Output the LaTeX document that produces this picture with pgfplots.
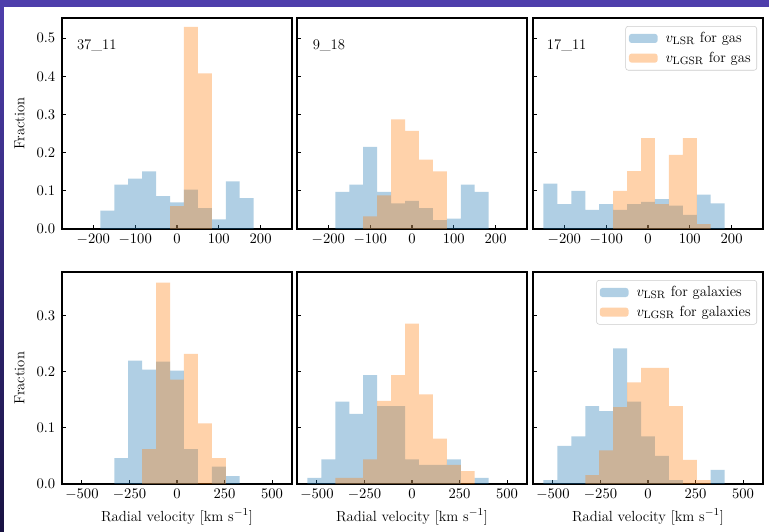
\documentclass[border=0pt]{standalone}
\usepackage{pgfplots}
\pgfplotsset{compat=1.18}
\definecolor{cblue}{HTML}{1F77B4}
\definecolor{corange}{HTML}{FF7F0E}
\definecolor{bgtop}{RGB}{78,62,172}
\definecolor{bgbot}{RGB}{24,18,66}
\definecolor{legframe}{RGB}{204,204,204}
\pgfplotsset{
  histo/.style={ybar, bar shift=0pt, draw=none, fill opacity=0.35,
    legend image code/.code={\fill[##1] (0pt,-3.4pt) rectangle (21.5pt,3.4pt); \path (25.5pt,0pt);}},
  common/.style={scale only axis, width=172.5pt, anchor=south west,
    tick align=inside, tick pos=left, major tick length=3pt,
    axis line style={black, line width=0.8pt},
    tick style={black, line width=0.8pt},
    ymin=0,
    yticklabel style={xshift=-1.5pt, /pgf/number format/.cd, fixed, fixed zerofill, precision=1},
    legend style={anchor=north east, draw=legframe, rounded corners=2pt,
      fill=white, fill opacity=0.8, text opacity=1, cells={anchor=west},
      inner sep=2.5pt, row sep=1.5pt},
    ylabel style={at={(axis description cs:-0.185,0.5)}, anchor=center},
    xlabel style={at={(axis description cs:0.5,-0.155)}, anchor=center},
  },
  toprow/.style={common, height=158.25pt, xmin=-275, xmax=275, ymax=0.553,
    xtick={-200,-100,0,100,200}, ytick={0,0.1,0.2,0.3,0.4,0.5}, bar width=33.3333},
  botrow/.style={common, height=159pt, xmin=-605, xmax=605, ymax=0.378,
    xtick={-500,-250,0,250,500}, ytick={0,0.1,0.2,0.3}, bar width=73.3333,
    xlabel={Radial velocity [km s$^{-1}$]}},
}
\begin{document}
\begin{tikzpicture}[font=\fontsize{11}{13.2}\selectfont]
\shade[top color=bgtop, bottom color=bgbot] (0,0) rectangle (576.75pt,399pt);
\fill[white] (3pt,0) rectangle (576.75pt,393.75pt);

% ---- top row ----
\begin{axis}[toprow, at={(46.5pt,227.25pt)}, ylabel={Fraction}]
\addplot[histo, fill=cblue] coordinates {(-166.667,0.048) (-133.333,0.116) (-100,0.132) (-66.667,0.151) (-33.333,0.086) (0,0.070) (33.333,0.103) (66.667,0.055) (100,0.025) (133.333,0.125) (166.667,0.081)};
\addplot[histo, fill=corange] coordinates {(0,0.060) (33.333,0.530) (66.667,0.408)};
\node[anchor=base west] at (rel axis cs:0.045,0.85) {37\_11};
\end{axis}

\begin{axis}[toprow, at={(222.75pt,227.25pt)}, yticklabels={}]
\addplot[histo, fill=cblue] coordinates {(-166.667,0.097) (-133.333,0.116) (-100,0.215) (-66.667,0.097) (-33.333,0.067) (0,0.074) (33.333,0.055) (66.667,0.023) (100,0.027) (133.333,0.116) (166.667,0.097)};
\addplot[histo, fill=corange] coordinates {(-100,0.033) (-66.667,0.088) (-33.333,0.287) (0,0.257) (33.333,0.182) (66.667,0.151)};
\node[anchor=base west] at (rel axis cs:0.048,0.85) {9\_18};
\end{axis}

\begin{axis}[toprow, at={(399.75pt,227.25pt)}, yticklabels={},
  legend style={at={(0.974,0.962)}}]
\addplot[histo, fill=cblue] coordinates {(-233.333,0.119) (-200,0.065) (-166.667,0.100) (-133.333,0.050) (-100,0.065) (-66.667,0.050) (-33.333,0.065) (0,0.071) (33.333,0.078) (66.667,0.061) (100,0.037) (133.333,0.090) (166.667,0.067)};
\addlegendentry{$v_{\mathrm{LSR}}$ for gas}
\addplot[histo, fill=corange] coordinates {(-66.667,0.100) (-33.333,0.152) (0,0.238) (33.333,0.065) (66.667,0.194) (100,0.238) (133.333,0.013)};
\addlegendentry{$v_{\mathrm{LGSR}}$ for gas}
\node[anchor=base west] at (rel axis cs:0.04,0.85) {17\_11};
\end{axis}

% ---- bottom row ----
\begin{axis}[botrow, at={(46.5pt,36pt)}, ylabel={Fraction}]
\addplot[histo, fill=cblue] coordinates {(-293.333,0.046) (-220,0.220) (-146.667,0.204) (-73.333,0.218) (0,0.202) (73.333,0.062) (220,0.031) (293.333,0.014)};
\addplot[histo, fill=corange] coordinates {(-146.667,0.062) (-73.333,0.359) (0,0.186) (73.333,0.232) (146.667,0.108) (220,0.046)};
\end{axis}

\begin{axis}[botrow, at={(222.75pt,36pt)}, yticklabels={}]
\addplot[histo, fill=cblue] coordinates {(-513.333,0.011) (-440,0.044) (-366.667,0.147) (-293.333,0.125) (-220,0.194) (-146.667,0.139) (-73.333,0.139) (0,0.044) (73.333,0.034) (146.667,0.034) (220,0.044) (366.667,0.011)};
\addplot[histo, fill=corange] coordinates {(-366.667,0.011) (-293.333,0.011) (-220,0.044) (-146.667,0.148) (-73.333,0.194) (0,0.286) (73.333,0.160) (146.667,0.081) (220,0.034) (293.333,0.023)};
\end{axis}

\begin{axis}[botrow, at={(399.75pt,36pt)}, yticklabels={},
  legend style={at={(0.974,0.962)}}]
\addplot[histo, fill=cblue] coordinates {(-513.333,0.007) (-440,0.068) (-366.667,0.085) (-293.333,0.139) (-220,0.130) (-146.667,0.242) (-73.333,0.147) (0,0.085) (73.333,0.050) (146.667,0.007) (366.667,0.025)};
\addlegendentry{$v_{\mathrm{LSR}}$ for galaxies}
\addplot[histo, fill=corange] coordinates {(-293.333,0.016) (-220,0.060) (-146.667,0.137) (-73.333,0.181) (0,0.207) (73.333,0.207) (146.667,0.139) (220,0.043) (293.333,0.007)};
\addlegendentry{$v_{\mathrm{LGSR}}$ for galaxies}
\end{axis}
\end{tikzpicture}
\end{document}
